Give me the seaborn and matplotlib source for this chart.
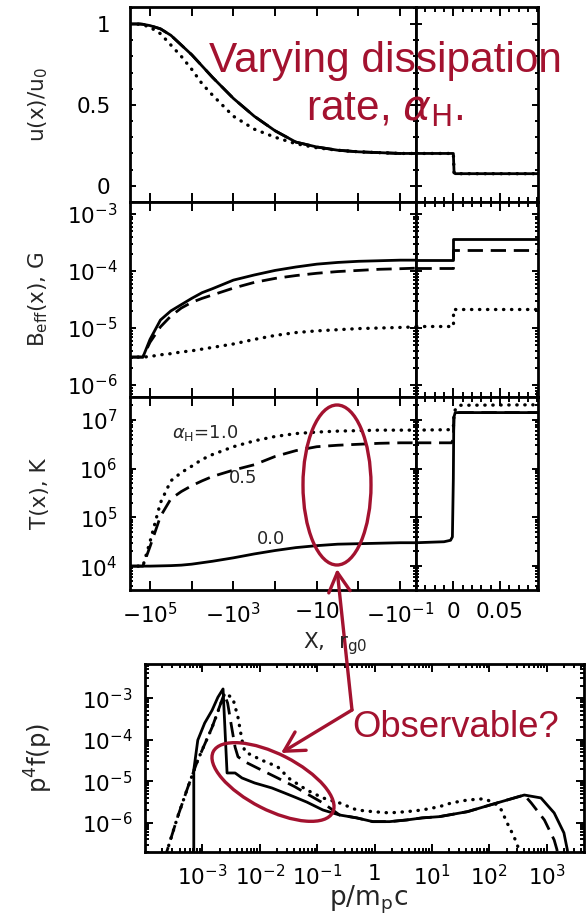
import numpy as np
import pandas as pd
import matplotlib
matplotlib.use("Agg")
import matplotlib.pyplot as plt
import seaborn as sns
from matplotlib.patches import Ellipse, FancyArrowPatch
from matplotlib.transforms import Affine2D
from matplotlib.ticker import FixedLocator, NullLocator, LogLocator, NullFormatter, MultipleLocator, FixedFormatter

# ------------------------------------------------------------------ data
# upstream grid: log10(-x / r_g0)
x_up_exp = [5.48, 5.25, 5.17, 5.0, 4.75, 4.5, 4.25, 4.0, 3.75, 3.5, 3.0, 2.5, 2.0, 1.5,
            1.0, 0.5, 0.0, -0.5, -1.0, -1.4]
# u(x)/u0 for alpha_H = 0.0 (solid), 0.5 (dashed), 1.0 (dotted)
u_a00 = [1.0, 1.0, 0.998, 0.99, 0.97, 0.93, 0.87, 0.81, 0.74, 0.67, 0.54, 0.43, 0.34, 0.27,
         0.24, 0.22, 0.21, 0.205, 0.20, 0.20]
u_a05 = [1.0, 1.0, 0.998, 0.99, 0.97, 0.93, 0.87, 0.81, 0.74, 0.67, 0.54, 0.43, 0.34, 0.27,
         0.24, 0.22, 0.21, 0.205, 0.20, 0.20]
u_a10 = [1.0, 0.998, 0.995, 0.98, 0.94, 0.87, 0.80, 0.72, 0.63, 0.56, 0.43, 0.35, 0.30, 0.26,
         0.235, 0.22, 0.21, 0.205, 0.20, 0.20]
# log10 B_eff [G]
B_a00 = [-5.51, -5.51, -5.51, -5.20, -4.86, -4.70, -4.59, -4.48, -4.38, -4.31, -4.16, -4.07,
         -3.99, -3.93, -3.88, -3.85, -3.83, -3.82, -3.81, -3.81]
B_a05 = [-5.51, -5.51, -5.51, -5.25, -4.98, -4.79, -4.65, -4.55, -4.48, -4.42, -4.30, -4.20,
         -4.13, -4.08, -4.04, -4.01, -3.99, -3.97, -3.96, -3.95]
B_a10 = [-5.51, -5.51, -5.51, -5.50, -5.47, -5.45, -5.42, -5.40, -5.37, -5.34, -5.28, -5.20,
         -5.13, -5.08, -5.05, -5.03, -5.01, -5.00, -4.99, -4.98]
# log10 T [K]
T_a00 = [4.0, 4.0, 4.0, 4.0, 4.005, 4.01, 4.02, 4.04, 4.07, 4.10, 4.17, 4.25, 4.32, 4.38,
         4.42, 4.45, 4.46, 4.47, 4.48, 4.48]
T_a05 = [4.0, 4.0, 4.0, 4.40, 5.02, 5.38, 5.53, 5.65, 5.75, 5.84, 5.97, 6.08, 6.25, 6.37,
         6.45, 6.48, 6.50, 6.52, 6.53, 6.53]
T_a10 = [4.0, 4.0, 4.0, 4.50, 5.30, 5.75, 5.92, 6.05, 6.19, 6.29, 6.45, 6.57, 6.66, 6.72,
         6.75, 6.77, 6.78, 6.79, 6.79, 6.79]

# near-subshock / downstream region (linear x in r_g0)
x_dn_u = [-0.04, -0.02, 0.0, 0.0008, 0.002, 0.05, 0.091]
u_dn = [0.20, 0.20, 0.20, 0.08, 0.075, 0.075, 0.075]
x_dn_B = [-0.04, -0.02, 0.0, 0.0, 0.091]
B_dn_a00 = [-3.81, -3.81, -3.81, -3.44, -3.44]
B_dn_a05 = [-3.95, -3.95, -3.95, -3.63, -3.63]
B_dn_a10 = [-4.97, -4.97, -4.97, -4.67, -4.67]
x_dn_T00 = [-0.04, -0.01, -0.003, -0.001, 0.0, 0.0005, 0.002, 0.091]
T_dn_a00 = [4.48, 4.50, 4.53, 4.60, 5.8, 7.05, 7.15, 7.15]
x_dn_T05 = [-0.04, -0.002, 0.0, 0.0008, 0.003, 0.091]
T_dn_a05 = [6.53, 6.53, 6.60, 7.10, 7.15, 7.15]
x_dn_T10 = [-0.04, -0.002, 0.0, 0.001, 0.006, 0.091]
T_dn_a10 = [6.79, 6.80, 6.85, 7.18, 7.30, 7.31]

# spectra: log10(p/m_p c), log10(p^4 f)
p_a00 = [-3.15, -3.15, -3.08, -2.96, -2.83, -2.73, -2.64, -2.57, -2.43, -2.31, -2.09, -1.79,
         -1.57, -1.39, -1.18, -0.90, -0.61, -0.31, -0.03, 0.26, 0.56, 0.83, 1.13, 1.62, 2.21,
         2.61, 2.90, 3.13, 3.30, 3.36, 3.39]
f_a00 = [-7.5, -4.73, -4.01, -3.60, -3.29, -2.98, -2.78, -4.80, -4.80, -4.92, -5.04, -5.16,
         -5.28, -5.38, -5.50, -5.69, -5.81, -5.88, -5.97, -5.97, -5.93, -5.88, -5.85, -5.73,
         -5.49, -5.33, -5.40, -5.76, -6.24, -6.65, -7.5]
p_a05 = [-3.62, -3.62, -3.43, -3.25, -3.08, -2.83, -2.66, -2.62, -2.56, -2.49, -2.43, -2.38,
         -2.26, -1.97, -1.69, -1.39, -1.18, -0.90, -0.78, -0.61, -0.31, -0.03, 0.26, 0.56,
         0.83, 1.13, 1.62, 2.21, 2.61, 2.73, 2.96, 3.13, 3.18, 3.21]
f_a05 = [-7.5, -6.69, -5.85, -5.13, -4.49, -3.70, -3.05, -2.90, -3.12, -3.70, -4.18, -4.41,
         -4.53, -4.73, -4.92, -5.13, -5.30, -5.52, -5.64, -5.81, -5.88, -5.97, -5.97, -5.93,
         -5.88, -5.85, -5.73, -5.49, -5.33, -5.52, -5.93, -6.41, -6.65, -7.5]
p_a10 = [-3.62, -3.62, -3.43, -3.25, -3.08, -2.83, -2.61, -2.47, -2.38, -2.31, -2.26, -1.97,
         -1.69, -1.48, -1.18, -0.90, -0.61, -0.31, -0.03, 0.26, 0.56, 0.83, 1.13, 1.34, 1.62,
         1.91, 2.09, 2.21, 2.31, 2.43, 2.52, 2.55]
f_a10 = [-7.5, -6.69, -5.85, -5.13, -4.49, -3.70, -2.88, -3.00, -3.46, -4.01, -4.29, -4.49,
         -4.65, -4.94, -5.21, -5.40, -5.52, -5.69, -5.73, -5.76, -5.73, -5.69, -5.61, -5.52,
         -5.45, -5.42, -5.52, -5.69, -6.00, -6.33, -6.65, -7.5]

curve_labels = [r"$\alpha_{\rm H}$=1.0", "0.5", "0.0"]
xt_up_exp = [5, 4, 3, 2, 1, 0, -1]
xt_up_labels = [r"$-10^{5}$", "", r"$-10^{3}$", "", r"$-10$", "", r"$-10^{-1}$"]
xt_dn = [0.0, 0.05]
xt_dn_labels = ["0", "0.05"]
xt_spec = [1e-3, 1e-2, 1e-1, 1, 10, 100, 1000]
xt_spec_labels = [r"$10^{-3}$", r"$10^{-2}$", r"$10^{-1}$", "1", r"$10^{1}$", r"$10^{2}$", r"$10^{3}$"]

# ------------------------------------------------------------------ style
sns.set_style("ticks")
plt.rcParams["font.family"] = ["DejaVu Sans"]
plt.rcParams["mathtext.fontset"] = "dejavusans"
plt.rcParams["axes.linewidth"] = 2.0
plt.rcParams["axes.edgecolor"] = "black"

W, H = 586, 914
fig = plt.figure(figsize=(W / 100, H / 100), dpi=100)
RED = "#a3122f"
TFS = 15.5
LFS = 15.5
ANN = ["Liberation Sans", "DejaVu Sans"]


def box(x0, y0, x1, y1):
    return [x0 / W, 1 - y1 / H, (x1 - x0) / W, (y1 - y0) / H]


rows = [(7.3, 202.0), (202.0, 397.0), (397.0, 590.0)]
axL = [fig.add_axes(box(130, r0, 416, r1)) for r0, r1 in rows]
axR = [fig.add_axes(box(416, r0, 538, r1)) for r0, r1 in rows]
axS = fig.add_axes(box(145, 664, 584, 852))

SOL = dict(color="black", lw=2.0, linestyle="-")
DSH = dict(color="black", lw=2.0, linestyle=(0, (5.5, 2.8)))
DOT = dict(color="black", lw=2.4, linestyle=(0, (0.1, 2.3)), dash_capstyle="round")


def line(ax, x, y, sty):
    sns.lineplot(x=np.asarray(x, float), y=np.asarray(y, float), ax=ax, estimator=None,
                 sort=False, legend=False, **sty)


xu = -10.0 ** np.asarray(x_up_exp)
# panel 1
line(axL[0], xu, u_a05, DSH)
line(axL[0], xu, u_a10, DOT)
line(axL[0], xu, u_a00, SOL)
line(axR[0], x_dn_u, u_dn, DOT)
line(axR[0], x_dn_u, u_dn, SOL)
# panel 2
line(axL[1], xu, 10.0 ** np.asarray(B_a00), SOL)
line(axL[1], xu, 10.0 ** np.asarray(B_a05), DSH)
line(axL[1], xu, 10.0 ** np.asarray(B_a10), DOT)
line(axR[1], x_dn_B, 10.0 ** np.asarray(B_dn_a00), SOL)
line(axR[1], x_dn_B, 10.0 ** np.asarray(B_dn_a05), DSH)
line(axR[1], x_dn_B, 10.0 ** np.asarray(B_dn_a10), DOT)
# panel 3
line(axL[2], xu, 10.0 ** np.asarray(T_a00), SOL)
line(axL[2], xu, 10.0 ** np.asarray(T_a05), DSH)
line(axL[2], xu, 10.0 ** np.asarray(T_a10), DOT)
line(axR[2], x_dn_T10, 10.0 ** np.asarray(T_dn_a10), DOT)
line(axR[2], x_dn_T05, 10.0 ** np.asarray(T_dn_a05), DSH)
line(axR[2], x_dn_T00, 10.0 ** np.asarray(T_dn_a00), SOL)
# spectra
line(axS, 10.0 ** np.asarray(p_a10), 10.0 ** np.asarray(f_a10), DOT)
line(axS, 10.0 ** np.asarray(p_a05), 10.0 ** np.asarray(f_a05), DSH)
line(axS, 10.0 ** np.asarray(p_a00), 10.0 ** np.asarray(f_a00), SOL)


def fwd(x):
    x = np.asarray(x, float)
    return -np.log10(np.clip(-x, 1e-300, None))


def inv(y):
    return -10.0 ** (-np.asarray(y, float))


ylims = [(-0.1, 1.103), (10 ** -6.21, 10 ** -2.79), (10 ** 3.51, 10 ** 7.47)]
for i in range(3):
    a, b = axL[i], axR[i]
    a.set_xscale("function", functions=(fwd, inv))
    a.set_xlim(-10 ** 5.48, -10 ** -1.379)
    b.set_xlim(-0.040, 0.0907)
    for ax in (a, b):
        if i > 0:
            ax.set_yscale("log")
        ax.set_ylim(*ylims[i])
        ax.set_xlabel("")
        ax.set_ylabel("")
        ax.tick_params(axis="both", which="both", direction="in", top=True, right=True,
                       bottom=True, left=True, width=1.4, labelsize=TFS, colors="black")
        ax.tick_params(axis="x", which="major", length=6.5)
        ax.tick_params(axis="x", which="minor", length=3.5)
        ax.tick_params(axis="y", which="major", length=4.5)
        ax.tick_params(axis="y", which="minor", length=2.5)
    a.xaxis.set_major_locator(FixedLocator(list(-10.0 ** np.asarray(xt_up_exp, float))))
    a.xaxis.set_minor_locator(NullLocator())
    b.xaxis.set_major_locator(FixedLocator(xt_dn))
    b.xaxis.set_minor_locator(MultipleLocator(0.01))
    if i == 0:
        for ax in (a, b):
            ax.yaxis.set_major_locator(FixedLocator([0, 0.5, 1.0]))
            ax.yaxis.set_minor_locator(MultipleLocator(0.1))
        a.yaxis.set_major_formatter(FixedFormatter(["0", "0.5", "1"]))
        a.tick_params(axis="y", pad=14)
    else:
        for ax in (a, b):
            ax.yaxis.set_major_locator(LogLocator(base=10, numticks=20))
            ax.yaxis.set_minor_locator(LogLocator(base=10, subs=np.arange(2, 10), numticks=20))
            ax.yaxis.set_minor_formatter(NullFormatter())
        a.tick_params(axis="y", pad=9)
    b.tick_params(axis="y", labelleft=False)
    if i < 2:
        a.tick_params(axis="x", labelbottom=False)
        b.tick_params(axis="x", labelbottom=False)
    else:
        a.xaxis.set_major_formatter(FixedFormatter(xt_up_labels))
        b.xaxis.set_major_formatter(FixedFormatter(xt_dn_labels))
        a.tick_params(axis="x", pad=9)
        b.tick_params(axis="x", pad=9)

axL[0].set_ylabel(r"u(x)/u$_0$", fontsize=LFS)
axL[1].set_ylabel(r"B$_{\rm eff}$(x), G", fontsize=LFS)
axL[2].set_ylabel(r"T(x), K", fontsize=LFS)
for a in axL:
    a.yaxis.set_label_coords(-0.28, 0.5)

# curve labels in T panel
axL[2].text(0.262, 0.813, curve_labels[0], transform=axL[2].transAxes, ha="center",
            va="center", fontsize=13)
axL[2].text(0.395, 0.58, curve_labels[1], transform=axL[2].transAxes, ha="center",
            va="center", fontsize=13)
axL[2].text(0.493, 0.264, curve_labels[2], transform=axL[2].transAxes, ha="center",
            va="center", fontsize=13)

# spectrum panel axes
axS.set_xscale("log")
axS.set_yscale("log")
axS.set_xlim(10 ** -4.0, 10 ** 3.65)
axS.set_ylim(10 ** -6.70, 10 ** -2.18)
axS.set_xlabel("")
axS.set_ylabel(r"p$^4$f(p)", fontsize=17.5)
axS.yaxis.set_label_coords(-0.205, 0.5)
axS.xaxis.set_major_locator(FixedLocator(xt_spec))
axS.xaxis.set_major_formatter(FixedFormatter(xt_spec_labels))
axS.xaxis.set_minor_locator(LogLocator(base=10, subs=np.arange(2, 10), numticks=30))
axS.xaxis.set_minor_formatter(NullFormatter())
axS.yaxis.set_major_locator(LogLocator(base=10, numticks=20))
axS.yaxis.set_minor_locator(LogLocator(base=10, subs=np.arange(2, 10), numticks=20))
axS.yaxis.set_minor_formatter(NullFormatter())
axS.tick_params(axis="both", which="both", direction="in", top=True, right=True,
                width=1.4, labelsize=TFS, colors="black")
axS.tick_params(axis="both", which="major", length=6)
axS.tick_params(axis="both", which="minor", length=3)
axS.tick_params(axis="x", pad=9)
axS.tick_params(axis="y", pad=9)

# figure-level labels
fig.text(335 / W, 1 - 648 / H, r"X,  r$_{\rm g0}$", ha="center", va="baseline", fontsize=LFS)
fig.text(368 / W, 1 - 905 / H, r"p/m$_{\rm p}$c", ha="center", va="baseline", fontsize=19)

# annotations (pixel coordinates, y from top)
PX = Affine2D().scale(1 / 100, -1 / 100).translate(0, H / 100) + fig.dpi_scale_trans
fig.text(385 / W, 1 - 72 / H, "Varying dissipation", ha="center", va="baseline",
         fontsize=30.5, color=RED, family=ANN)
fig.text(385 / W, 1 - 120 / H, r"rate, $\alpha_{\rm H}$.", ha="center", va="baseline",
         fontsize=30.5, color=RED, family=ANN)
fig.text(352 / W, 1 - 737 / H, "Observable?", ha="left", va="baseline", fontsize=26.3,
         color=RED, family=ANN)
fig.patches.append(Ellipse((337, 485), 68, 160, fill=False, ec=RED, lw=2.4, transform=PX))
fig.patches.append(Ellipse((273, 782), 134, 56, angle=27, fill=False, ec=RED, lw=2.4,
                           transform=PX))
for tip in [(337, 569), (281, 753)]:
    fig.patches.append(FancyArrowPatch((352, 710), tip, transform=PX, color=RED, lw=2.4,
                                       arrowstyle="->,head_length=1.0,head_width=0.55",
                                       shrinkA=0, shrinkB=0, mutation_scale=14))

fig.savefig("out.png", dpi=100)
